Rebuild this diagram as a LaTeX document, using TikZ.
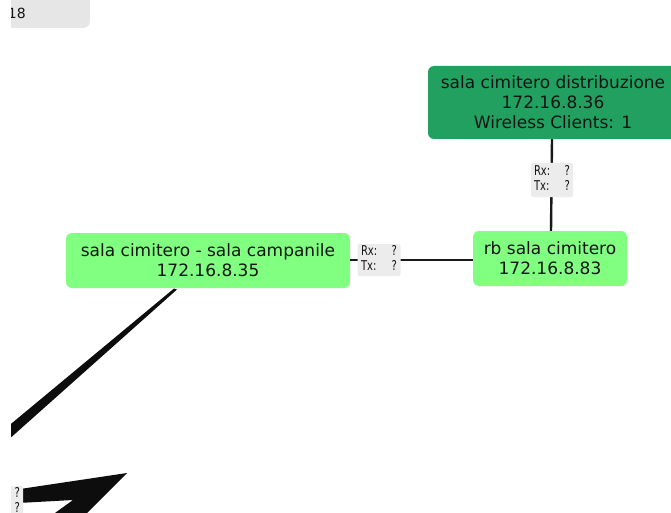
\documentclass[tikz,border=0pt]{standalone}
\usepackage{fontspec}
\setmainfont{DejaVu Sans}
\newfontfamily\linkfont[FakeStretch=0.74]{DejaVu Sans}
\begin{document}
\begin{tikzpicture}[x=1pt,y=-1pt,
  every node/.style={text=black!92, inner sep=0pt},
  devnode/.style={rounded corners=6pt, align=center, anchor=center,
    font=\fontsize{17}{20}\selectfont},
  lightdev/.style={devnode, fill={rgb,255:red,128;green,255;blue,128}},
  darkdev/.style={devnode, fill={rgb,255:red,34;green,160;blue,96}},
  linkbox/.style={fill={rgb,255:red,236;green,236;blue,236}, rounded corners=2pt,
    align=left, font=\linkfont\fontsize{13.5}{14}\selectfont, inner sep=0pt},
  linkline/.style={line width=2.4pt, draw=black!90},
  taper/.style={fill=black!95}]
\newcommand\rxtx{\begin{tabular}{@{}p{36pt}@{}}Rx:\hfill?\\[0.5pt]Tx:\hfill?\end{tabular}}
\useasboundingbox (0,0) rectangle (671,513);
\fill[white] (0,0) rectangle (671,513);
\begin{scope}
\clip (11,0) rectangle (671,513);

% tapered links toward devices outside the view
\coordinate (far1) at (0,440);
\fill[taper] (174,288.5) -- (177,289.5) -- (3.6,444) -- (-3.6,436) -- cycle;
\coordinate (hub) at (127,473);
\fill[taper] (0,492) -- (hub) -- (87,513) -- (55,513) -- (73,500) -- (0,504) -- cycle;
\node[linkbox, minimum width=20pt, minimum height=32pt, anchor=north west] (lblC) at (3,486)
  {\begin{tabular}{@{}r@{}}\hspace{8pt}?\\[0.5pt]?\end{tabular}};

% devices
\node[darkdev, minimum width=250pt, minimum height=73pt] (dist) at (553,102.5)
  {sala cimitero distribuzione\\172.16.8.36\\Wireless Clients: 1};
\node[lightdev, minimum width=154pt, minimum height=55pt] (rb) at (550,258.5)
  {rb sala cimitero\\172.16.8.83};
\node[lightdev, minimum width=284pt, minimum height=55pt] (camp) at (208,260.5)
  {sala cimitero - sala campanile\\172.16.8.35};

% links between devices
\draw[linkline] (dist.south -| 552,0) -- (rb.north -| 551,0);
\draw[linkline] (camp.east |- 0,260) -- (rb.west |- 0,260);
\node[linkbox, minimum width=42pt, minimum height=34pt] (lblA) at (552,180) {\rxtx};
\node[linkbox, minimum width=43pt, minimum height=32pt] (lblB) at (379,260) {\rxtx};

% clipped label in the corner
\node[fill={rgb,255:red,230;green,230;blue,230}, rounded corners=6pt,
  minimum width=90pt, minimum height=36pt, anchor=south east] (corner) at (90,28) {};
\node[anchor=base east, font=\fontsize{14}{16}\selectfont] (cornertext) at (26,19) {18};
\end{scope}
\end{tikzpicture}
\end{document}
